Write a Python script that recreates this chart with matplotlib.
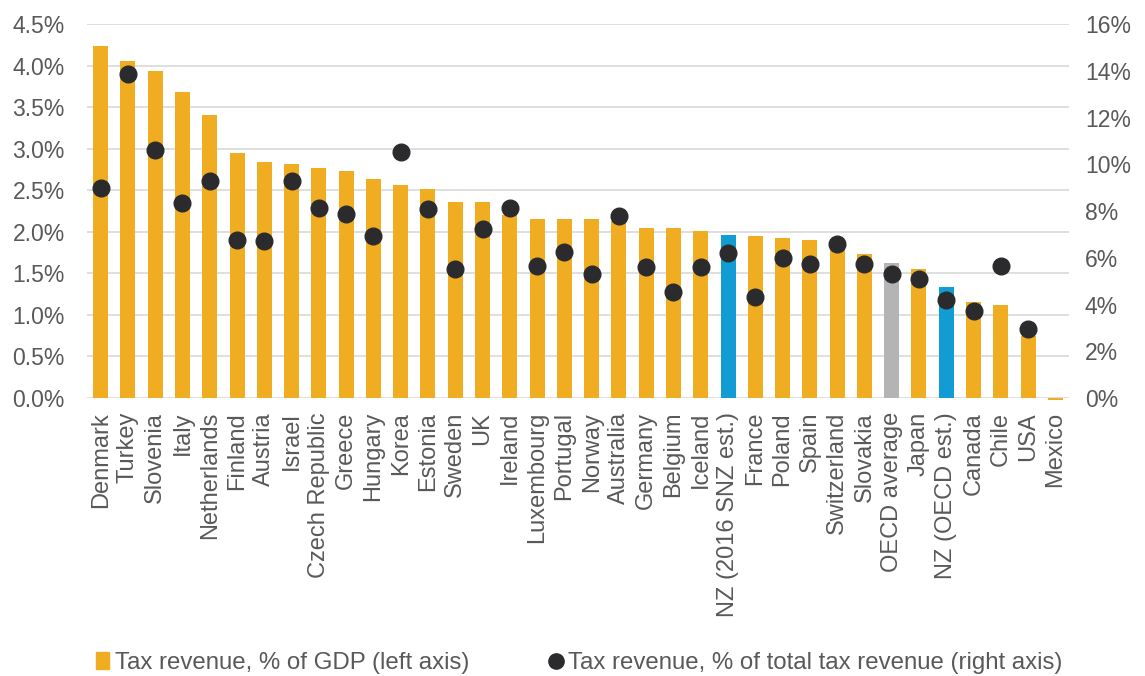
import numpy as np
import matplotlib
matplotlib.use("Agg")
import matplotlib.pyplot as plt
from matplotlib.patches import Patch
from matplotlib.lines import Line2D

plt.rcParams['font.family'] = ['Liberation Sans', 'DejaVu Sans']

countries = ["Denmark", "Turkey", "Slovenia", "Italy", "Netherlands", "Finland",
             "Austria", "Israel", "Czech Republic", "Greece", "Hungary", "Korea",
             "Estonia", "Sweden", "UK", "Ireland", "Luxembourg", "Portugal",
             "Norway", "Australia", "Germany", "Belgium", "Iceland",
             "NZ (2016 SNZ est.)", "France", "Poland", "Spain", "Switzerland",
             "Slovakia", "OECD average", "Japan", "NZ (OECD est.)", "Canada",
             "Chile", "USA", "Mexico"]

# tax revenue, % of GDP (left axis)
pct_gdp = [4.24, 4.06, 3.93, 3.68, 3.41, 2.95, 2.84, 2.82, 2.77, 2.73, 2.64, 2.56,
           2.52, 2.36, 2.36, 2.20, 2.15, 2.15, 2.15, 2.13, 2.04, 2.04, 2.01,
           1.96, 1.95, 1.93, 1.90, 1.78, 1.73, 1.62, 1.55, 1.33, 1.15,
           1.12, 0.75, -0.02]

# tax revenue, % of total tax revenue (right axis)
pct_total = [8.97, 13.85, 10.6, 8.36, 9.28, 6.77, 6.70, 9.28, 8.11, 7.87, 6.93, 10.54,
             8.09, 5.50, 7.24, 8.11, 5.65, 6.26, 5.30, 7.77, 5.59, 4.52, 5.59,
             6.20, 4.33, 6.00, 5.72, 6.60, 5.75, 5.30, 5.08, 4.21, 3.72,
             5.66, 2.94, np.nan]

orange = "#F0AD22"
blue = "#119CD3"
grey = "#B4B4B4"
dot = "#2B2B2E"
txt = "#595959"

colors = []
for c in countries:
    if c.startswith("NZ"):
        colors.append(blue)
    elif c == "OECD average":
        colors.append(grey)
    else:
        colors.append(orange)

fig = plt.figure(figsize=(11.45, 6.76), dpi=100)
ax = fig.add_axes([0.076, 0.4112, 0.8576, 0.5533])
x = np.arange(len(countries))

ax.bar(x, pct_gdp, width=0.55, color=colors, zorder=2, clip_on=False)
ax.set_xlim(-0.5, len(countries) - 0.5)
ax.set_ylim(0, 4.5)
ax.set_yticks(np.arange(0, 4.51, 0.5))
ax.set_yticklabels([f"{v:.1f}%" for v in np.arange(0, 4.51, 0.5)])
ax.yaxis.grid(True, color="#D9D9D9", linewidth=1.2, zorder=0)
ax.set_axisbelow(True)
ax.set_xticks(x)
ax.set_xticklabels(countries, rotation=90)
for s in ax.spines.values():
    s.set_visible(False)
ax.tick_params(length=0, labelcolor=txt)
ax.tick_params(axis='y', labelsize=16.5, pad=16)
ax.tick_params(axis='x', labelsize=17, pad=10)

ax2 = ax.twinx()
ax2.plot(x, pct_total, 'o', color=dot, markersize=12, zorder=3)
ax2.set_ylim(0, 16)
ax2.set_yticks(np.arange(0, 17, 2))
ax2.set_yticklabels([f"{v}%" for v in range(0, 17, 2)])
for s in ax2.spines.values():
    s.set_visible(False)
ax2.tick_params(length=0, labelsize=16.5, labelcolor=txt, pad=11.5)

handles = [Patch(color=orange, label="Tax revenue, % of GDP (left axis)"),
           Line2D([], [], marker='o', linestyle='', color=dot, markersize=11,
                  label="Tax revenue, % of total tax revenue (right axis)")]
leg = fig.legend(handles=handles, loc="center", bbox_to_anchor=(0.506, 0.019),
                 ncol=2, frameon=False, fontsize=17.3, handlelength=0.55,
                 handletextpad=0.25, columnspacing=3.3)
for t in leg.get_texts():
    t.set_color(txt)

fig.savefig("out.png", dpi=100)
